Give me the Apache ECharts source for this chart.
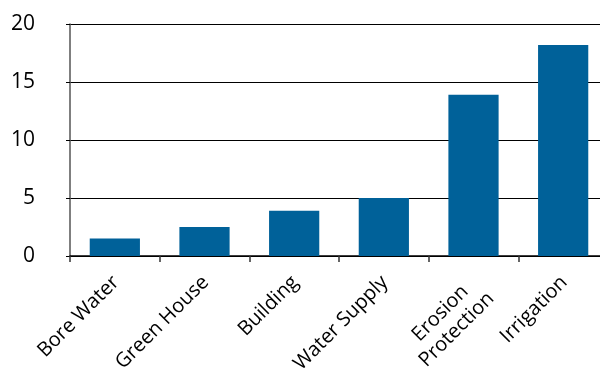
<!DOCTYPE html>
<html><head><meta charset="utf-8">
<script src="https://cdn.jsdelivr.net/npm/echarts@6/dist/echarts.min.js"></script>
<style>html,body{margin:0;padding:0;background:#fff}#c{width:600px;height:368px}</style>
</head><body><div id="c"></div>
<script>
const categories = ["Bore Water", "Green House", "Building", "Water Supply", "Erosion\nProtection", "Irrigation"];
const values = [1.5, 2.5, 3.9, 5.0, 13.9, 18.2];
const yTicks = [0, 5, 10, 15, 20];

const chart = echarts.init(document.getElementById('c'));
chart.setOption({
  animation: false,
  grid: { left: 70, width: 538, top: 24, height: 232, containLabel: false, outerBoundsMode: 'none' },
  xAxis: {
    type: 'category',
    data: categories,
    axisLine: { lineStyle: { color: '#000', width: 1.5 } },
    axisTick: { show: true, length: 6, lineStyle: { color: '#333', width: 1.5 } },
    axisLabel: {
      rotate: 45, margin: 8, verticalAlign: 'top', padding: [0, 10, 0, 0],
      fontSize: 20, color: '#000', fontFamily: 'Open Sans', lineHeight: 23, interval: 0,
      formatter: v => v.split('\n').map(s => '{c|' + s + '}').join('\n'),
      rich: { c: { align: 'center', fontSize: 20, lineHeight: 23, fontFamily: 'Open Sans', color: '#000' } }
    }
  },
  yAxis: {
    type: 'value',
    min: yTicks[0], max: yTicks[yTicks.length - 1], interval: 5,
    axisLine: { show: true, lineStyle: { color: '#555', width: 1.5 } },
    axisTick: { show: true, length: 4, lineStyle: { color: '#000' } },
    axisLabel: { margin: 35, fontSize: 21, color: '#000', fontFamily: 'Open Sans', align: 'right' },
    splitLine: { lineStyle: { color: '#000', width: 1.2 } }
  },
  series: [{
    type: 'bar',
    data: values,
    barWidth: '56%',
    itemStyle: { color: '#006199' }
  }]
});
</script></body></html>
